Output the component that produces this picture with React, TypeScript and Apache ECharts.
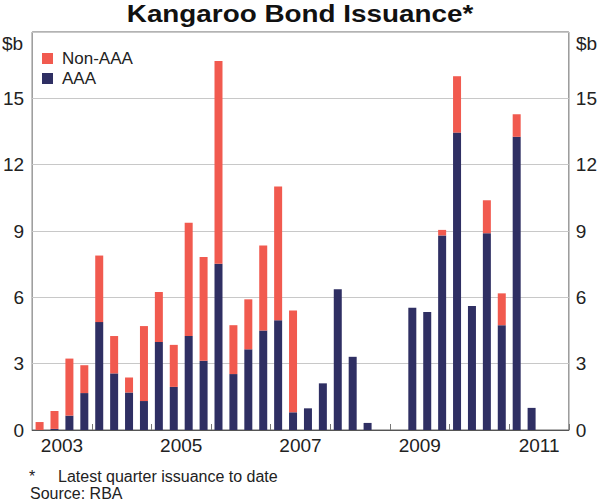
import React, { useEffect, useRef } from "react";
import * as echarts from "echarts";

const quarters: string[] = [];
const years = ["2003", "2004", "2005", "2006", "2007", "2008", "2009", "2010", "2011"];
years.forEach((y) => ["Q1", "Q2", "Q3", "Q4"].forEach((q) => quarters.push(y + " " + q)));

const aaa = [
  0, 0.05, 0.65, 1.67, 4.88, 2.56, 1.7, 1.31, 3.98, 1.95, 4.25, 3.13, 7.52, 2.53, 3.65, 4.5,
  4.96, 0.8, 0.98, 2.11, 6.36, 3.31, 0.32, 0, 0, 5.53, 5.34, 8.8, 13.45, 5.61, 8.9, 4.74,
  13.26, 1.0, 0, 0,
];
const nonAaa = [
  0.36, 0.81, 2.58, 1.26, 3.01, 1.69, 0.68, 3.39, 2.26, 1.9, 5.12, 4.69, 9.17, 2.21, 2.26,
  3.84, 6.05, 4.61, 0, 0, 0, 0, 0, 0, 0, 0, 0, 0.25, 2.55, 0, 1.49, 1.44, 1.02, 0, 0, 0,
];
const yTicks = { min: 0, max: 18, interval: 3 };

const FONT = "'Liberation Sans', Arial, Helvetica, sans-serif";
const RED = "#F15A4F";
const NAVY = "#2F2F63";

export default function App() {
  const ref = useRef<HTMLDivElement>(null);
  useEffect(() => {
    if (!ref.current) return;
    const chart = echarts.init(ref.current, null, { renderer: "svg" });
    const yLabel = (v: number) => (v === yTicks.max ? "" : String(v));
    chart.setOption({
      animation: false,
      textStyle: { fontFamily: FONT },
      grid: {
        left: 30,
        right: 30,
        top: 32,
        bottom: 73,
        show: true,
        borderColor: "#666",
        borderWidth: 1,
      },
      legend: {
        orient: "vertical",
        left: 37,
        top: 44,
        itemWidth: 11,
        itemHeight: 11,
        itemGap: 1,
        icon: "rect",
        textStyle: {
          fontFamily: FONT,
          fontSize: 17,
          color: "#222",
          lineHeight: 19,
          padding: [0, 0, 0, 4],
        },
        data: ["Non-AAA", "AAA"],
      },
      xAxis: [
        {
          type: "category",
          data: quarters,
          position: "bottom",
          axisLine: { show: true, lineStyle: { color: "#555", width: 1 } },
          axisTick: {
            show: true,
            inside: true,
            length: 6,
            interval: (i: number) => i % 4 === 0 && i !== 0,
            lineStyle: { color: "#777" },
          },
          axisLabel: { show: false },
        },
        {
          type: "category",
          data: years,
          position: "bottom",
          axisLine: { show: false },
          axisTick: { show: false },
          axisLabel: {
            interval: 0,
            formatter: (v: string, i: number) => (i % 2 === 0 ? v : ""),
            fontFamily: FONT,
            fontSize: 19,
            color: "#222",
            margin: 6,
          },
        },
      ],
      yAxis: [
        {
          type: "value",
          position: "left",
          ...yTicks,
          axisLine: { show: false },
          axisTick: { show: false },
          splitLine: { show: true, lineStyle: { color: "#c8c8c8", width: 1 } },
          axisLabel: { formatter: yLabel, fontFamily: FONT, fontSize: 19, color: "#222", margin: 8 },
        },
        {
          type: "value",
          position: "right",
          ...yTicks,
          axisLine: { show: false },
          axisTick: { show: false },
          splitLine: { show: false },
          axisLabel: { formatter: yLabel, fontFamily: FONT, fontSize: 19, color: "#222", margin: 7 },
        },
      ],
      series: [
        {
          name: "AAA",
          type: "bar",
          stack: "total",
          xAxisIndex: 0,
          yAxisIndex: 0,
          barWidth: 8,
          itemStyle: { color: NAVY },
          data: aaa,
        },
        {
          name: "Non-AAA",
          type: "bar",
          stack: "total",
          xAxisIndex: 0,
          yAxisIndex: 0,
          barWidth: 8,
          itemStyle: { color: RED },
          data: nonAaa,
        },
      ],
      graphic: [
        {
          type: "text",
          x: 300,
          y: 14,
          scaleX: 1.16,
          style: {
            text: "Kangaroo Bond Issuance*",
            fontFamily: FONT,
            fontSize: 24,
            fontWeight: "bold",
            fill: "#111",
            align: "center",
            verticalAlign: "middle",
          },
        },
        {
          type: "text",
          x: 2,
          y: 43,
          style: { text: "$b", fontFamily: FONT, fontSize: 19, fill: "#222", align: "left", verticalAlign: "middle" },
        },
        {
          type: "text",
          x: 576,
          y: 43,
          style: { text: "$b", fontFamily: FONT, fontSize: 19, fill: "#222", align: "left", verticalAlign: "middle" },
        },
        {
          type: "text",
          x: 29,
          y: 476,
          style: { text: "*", fontFamily: FONT, fontSize: 16, fill: "#222", align: "left", verticalAlign: "middle" },
        },
        {
          type: "text",
          x: 58,
          y: 476,
          style: {
            text: "Latest quarter issuance to date",
            fontFamily: FONT,
            fontSize: 16,
            fill: "#222",
            align: "left",
            verticalAlign: "middle",
          },
        },
        {
          type: "text",
          x: 30,
          y: 493,
          style: { text: "Source: RBA", fontFamily: FONT, fontSize: 16, fill: "#222", align: "left", verticalAlign: "middle" },
        },
      ],
    });
    return () => chart.dispose();
  }, []);
  return (
    <div
      ref={ref}
      style={{ position: "fixed", left: 0, top: 0, width: 600, height: 503, background: "#fff" }}
    />
  );
}
